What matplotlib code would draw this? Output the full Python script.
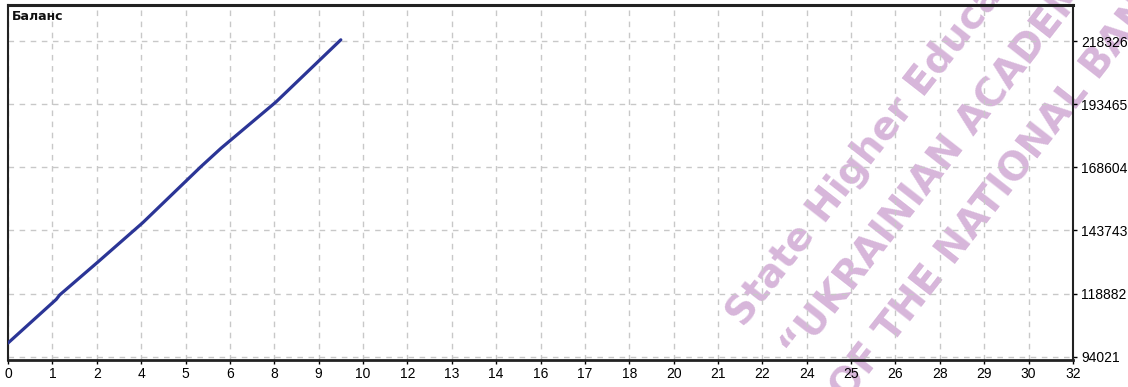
import numpy as np
import matplotlib
matplotlib.use('Agg')
import matplotlib.pyplot as plt

# balance curve (trade number -> balance)
trades = [0, 1.45, 1.55, 2.7, 4.05, 5.8, 6.4, 8.05, 10.0]
balance = [99400, 116600, 118300, 131300, 146800, 168900, 176100, 194300, 218800]

x_labels = ['0', '1', '2', '4', '5', '6', '8', '9', '10', '12', '13', '14', '16',
            '17', '18', '20', '21', '22', '24', '25', '26', '28', '29', '30', '32']
y_ticks = [94021, 118882, 143743, 168604, 193465, 218326]

watermark = ['State Higher Educational Institution',
             '\u201cUKRAINIAN ACADEMY OF BANKING',
             'OF THE NATIONAL BANK OF UKRAINE']

tick_font = dict(family='Liberation Sans', size=10)

W, H = 1128, 387
fig = plt.figure(figsize=(W / 100, H / 100), dpi=100, facecolor='white')
ax = fig.add_axes([8 / W, 1 - 360 / H, (1073 - 8) / W, (360 - 5) / H])
ax.patch.set_alpha(0)

ax.plot(trades, balance, color='#2b3596', lw=2.3, solid_capstyle='round', zorder=3)

ax.set_xlim(0, 32)
ax.set_ylim(92720, 232510)
ax.set_xticks(np.linspace(0, 32, len(x_labels)))
ax.set_xticklabels(x_labels, **tick_font)
ax.set_yticks(y_ticks)
ax.set_yticklabels([str(v) for v in y_ticks], **tick_font)
ax.yaxis.tick_right()
ax.tick_params(axis='both', direction='out', length=3, width=1, colors='black', pad=2)
ax.tick_params(axis='y', pad=3)

ax.grid(True, color='#c8c8c8', lw=1, ls=(0, (4, 4)))
for s in ax.spines.values():
    s.set_color('#222222')
    s.set_linewidth(1.5)
ax.spines['top'].set_linewidth(2.2)
ax.spines['bottom'].set_linewidth(2.0)

ax.text(4 / (1073 - 8), 1 - 12 / (360 - 5), 'Баланс', transform=ax.transAxes,
        ha='left', va='center', fontsize=9, fontweight='bold', color='#111111')

# watermark
starts = [(735, 321), (790, 355), (839, 396)]
for txt, (px, py) in zip(watermark, starts):
    fig.text(px / W, 1 - py / H, txt, rotation=52, rotation_mode='anchor',
             ha='left', va='center', fontsize=28, fontweight='bold',
             color='#d7b6da', zorder=-1)

fig.savefig('out.png', dpi=100, facecolor='white')
